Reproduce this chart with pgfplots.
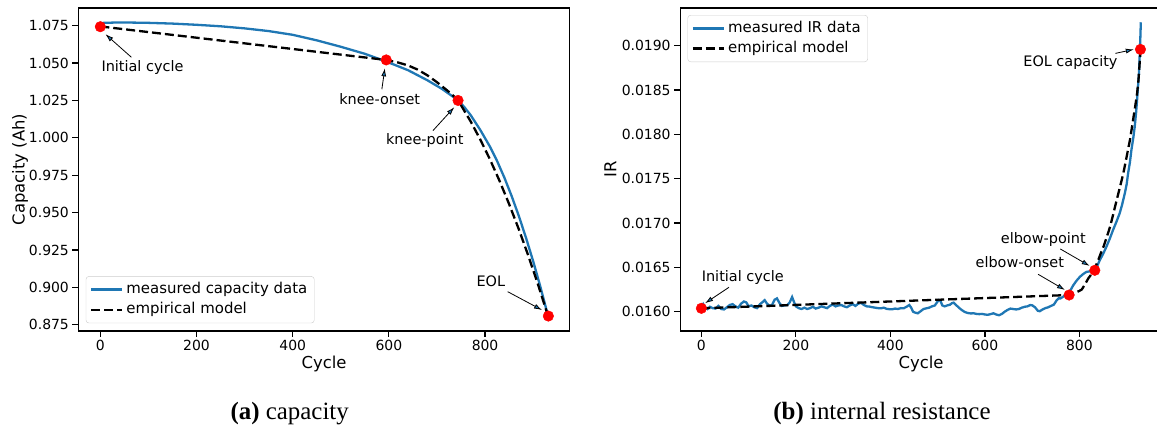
\documentclass[border=0pt]{standalone}
\usepackage{fontspec}
\setmainfont{DejaVu Sans}
\newfontfamily\capfont{Liberation Serif}
\usepackage{pgfplots}
\pgfplotsset{compat=1.18}
\usetikzlibrary{arrows.meta}

\definecolor{mplblue}{HTML}{1F77B4}
\definecolor{legedge}{HTML}{CCCCCC}
\newcommand{\tickfont}{\fontsize{14}{16}\selectfont}
\newcommand{\annfont}{\fontsize{14.5}{17}\selectfont}
\newcommand{\legfont}{\fontsize{15}{18}\selectfont}
\newcommand{\labfont}{\fontsize{16.5}{19}\selectfont}

\tikzset{
  ann/.style={font=\annfont},
  annarrow/.style={line width=0.8bp, -{Latex[length=8bp,width=5bp,fill=mplblue]}},
}
\pgfplotsset{
  mpl/.style={
    scale only axis, height=323bp,
    axis line style={line width=1.2bp},
    tick align=outside, major tick length=6bp,
    every tick/.style={black, line width=1.2bp},
    xtick pos=bottom, ytick pos=left,
    tick label style={font=\tickfont},
    /pgf/number format/assume math mode=true,
    label style={font=\labfont},
    xtick={0,200,400,600,800},
    scaled y ticks=false,
    xlabel={Cycle},
    xlabel style={at={(axis description cs:0.5,-0.1146)}, anchor=base},
    legend cell align=left,
    legend image code/.code={\draw[##1, line width=2.4bp] (0bp,0bp) -- (31bp,0bp);},
    legend style={draw=legedge, rounded corners=3bp,
      fill=white, fill opacity=0.8, text opacity=1, font=\legfont,
      inner xsep=4bp, inner ysep=3bp, row sep=0bp,
      nodes={inner xsep=3bp, inner ysep=3bp, text height=10.9bp, text depth=3.4bp},
      /tikz/every even column/.append style={column sep=2bp}},
  },
  meas/.style={mplblue, line width=2.3bp},
  model/.style={black, line width=2.3bp, dash pattern=on 9bp off 4bp},
  dots/.style={only marks, mark=*, mark size=5.3bp, red, forget plot},
}

\begin{document}
\begin{tikzpicture}
\useasboundingbox (0,0) rectangle (1157bp,435bp);

% (a) capacity
\begin{axis}[mpl, at={(78.4bp,104bp)}, anchor=south west, width=491.3bp,
  xmin=-45.6, xmax=976, ymin=0.87079, ymax=1.08683,
  ytick={0.875,0.9,0.925,0.95,0.975,1.0,1.025,1.05,1.075},
  yticklabel style={/pgf/number format/.cd, fixed, fixed zerofill, precision=3},
  ylabel={Capacity (Ah)},
  ylabel style={at={(axis description cs:-0.1189,0.5)}, anchor=center},
  legend style={at={(0.015,0.024)}, anchor=south west},
]
\addplot[meas] coordinates {
(0,1.0768) (30,1.0771) (60,1.0771) (100,1.0769) (150,1.0764) (200,1.0756)
(250,1.0746) (300,1.0732) (350,1.0714) (400,1.0689) (450,1.0652) (500,1.0609)
(550,1.0562) (594,1.0511) (640,1.0452) (680,1.0385) (710,1.0328) (744,1.0251)
(757,1.0205) (770,1.0152) (790,1.0053) (810,0.9942) (825,0.9845) (840,0.9735)
(855,0.9613) (870,0.9479) (885,0.9333) (900,0.9175) (915,0.9004) (930,0.8821)
};
\addplot[model] coordinates {
(0,1.0745) (594,1.0521) (620,1.0503) (640,1.0484) (660,1.0456) (680,1.0418)
(700,1.0372) (720,1.0320) (732,1.0288) (744,1.0250) (770,1.0110) (790,0.9989)
(810,0.9857) (830,0.9713) (850,0.9557) (870,0.9390) (890,0.9211) (910,0.9020)
(931,0.8808)
};
\addplot[dots] coordinates {(0,1.0743) (594.5,1.0521) (743.8,1.0250) (931.6,0.8808)};
\legend{measured capacity data, empirical model}
\node[ann, anchor=base] at (axis cs:87.6,1.0443) {Initial cycle};
\draw[annarrow] (axis cs:64.5,1.0539) -- (axis cs:10.6,1.0693);
\node[ann, anchor=base] at (axis cs:580.9,1.0220) {knee-onset};
\draw[annarrow] (axis cs:585.4,1.0325) -- (axis cs:591.6,1.0465);
\node[ann, anchor=base] at (axis cs:674.7,0.99526) {knee-point};
\draw[annarrow] (axis cs:691.6,1.0048) -- (axis cs:736.1,1.0205);
\node[ann, anchor=base] at (axis cs:812,0.90087) {EOL};
\draw[annarrow] (axis cs:847,0.8971) -- (axis cs:918.5,0.8848);
\end{axis}

% (b) internal resistance
\begin{axis}[mpl, at={(680.1bp,104bp)}, anchor=south west, width=482bp,
  xmin=-45, xmax=975, ymin=0.015782, ymax=0.019426,
  ytick={0.016,0.0165,0.017,0.0175,0.018,0.0185,0.019},
  yticklabel style={/pgf/number format/.cd, fixed, fixed zerofill, precision=4},
  ylabel={IR},
  ylabel style={at={(axis description cs:-0.1446,0.5)}, anchor=center},
  legend style={at={(0.01535,0.9783)}, anchor=north west},
]
\addplot[meas] coordinates {
(0,0.016040) (4,0.016085) (8,0.016050) (13,0.016030) (18,0.016055) (24,0.016040)
(30,0.016035) (36,0.016065) (42,0.016030) (48,0.016025) (54,0.016050) (60,0.016075)
(66,0.016085) (72,0.016060) (78,0.016045) (84,0.016090) (90,0.016115) (95,0.016105)
(100,0.016060) (106,0.016070) (112,0.016050) (118,0.016040) (124,0.016085) (130,0.016110)
(134,0.016130) (139,0.016090) (145,0.016065) (150,0.016080) (155,0.016135) (160,0.016150)
(165,0.016100) (170,0.016065) (176,0.016070) (182,0.016075) (187,0.016105) (192,0.016165)
(196,0.016110) (200,0.016060) (206,0.016040) (212,0.016030) (218,0.016045) (224,0.016030)
(230,0.016040) (236,0.016055) (242,0.016035) (248,0.016045) (254,0.016060) (260,0.016050)
(266,0.016040) (272,0.016065) (278,0.016080) (284,0.016060) (290,0.016070) (296,0.016075)
(302,0.016060) (308,0.016050) (314,0.016070) (320,0.016085) (326,0.016065) (332,0.016090)
(338,0.016100) (344,0.016075) (350,0.016060) (356,0.016057) (362,0.016050) (368,0.016045)
(374,0.016040) (380,0.016038) (386,0.016045) (392,0.016032) (398,0.016028) (404,0.016027)
(410,0.016035) (416,0.016030) (422,0.016040) (428,0.016038) (434,0.016055) (440,0.016075)
(444,0.016045) (448,0.016000) (452,0.015990) (458,0.015982) (464,0.016005) (470,0.016030)
(476,0.016038) (482,0.016045) (488,0.016060) (494,0.016070) (498,0.016100) (502,0.016130)
(506,0.016120) (510,0.016070) (515,0.016060) (520,0.016070) (526,0.016078) (530,0.016095)
(534,0.016102) (540,0.016070) (546,0.016040) (552,0.016015) (558,0.015995) (564,0.015985)
(570,0.015980) (576,0.015982) (582,0.015975) (588,0.015972) (594,0.015975) (600,0.015968)
(606,0.015965) (612,0.015972) (618,0.015982) (624,0.015968) (630,0.015960) (636,0.015975)
(642,0.016000) (648,0.016020) (654,0.016035) (660,0.016030) (666,0.016025) (672,0.016030)
(678,0.016045) (684,0.016055) (690,0.016060) (696,0.016075) (700,0.016072) (706,0.016050)
(712,0.016010) (716,0.016005) (722,0.016025) (728,0.016040) (734,0.016050) (740,0.016065)
(746,0.016080) (752,0.016130) (756,0.016150) (760,0.016150) (766,0.016170) (772,0.016200)
(778,0.016220) (782,0.016250) (787,0.016298) (794,0.016350) (801,0.016393) (808,0.016425)
(815,0.016449) (822,0.016455) (828,0.016462) (833,0.016475) (838,0.016520) (843,0.016580)
(850,0.016650) (857,0.016731) (864,0.016820) (871,0.016919) (878,0.017010) (885,0.017107)
(890,0.017200) (896,0.017333) (900,0.017440) (903,0.017559) (907,0.017690) (910,0.017822)
(914,0.017960) (917,0.018085) (920,0.018250) (922,0.018386) (924,0.018540) (926,0.018687)
(928,0.018951) (929,0.019100) (930,0.019265)
};
\addplot[model] coordinates {
(0,0.016038) (778,0.016188) (790,0.016210) (800,0.016235) (805,0.016250) (812,0.016310)
(819,0.016377) (825,0.016420) (830,0.016455) (835,0.016520) (840,0.016584) (845,0.016655)
(851,0.016734) (858,0.016845) (865,0.016959) (872,0.017110) (879,0.017261) (886,0.017410)
(893,0.017562) (900,0.017750) (907,0.017938) (912,0.018110) (918,0.018314) (922,0.018460)
(925,0.018615) (928,0.018841) (929.5,0.018962)
};
\addplot[dots] coordinates {(0,0.016038) (778.2,0.016188) (832.6,0.016467) (929.2,0.018959)};
\legend{measured IR data, empirical model}
\node[ann, anchor=base] at (axis cs:781,0.018763) {EOL capacity};
\draw[annarrow] (axis cs:876.2,0.018914) -- (axis cs:915.1,0.018959);
\node[ann, anchor=base] at (axis cs:87.6,0.016339) {Initial cycle};
\draw[annarrow] (axis cs:58.4,0.016275) -- (axis cs:7.8,0.016095);
\node[ann, anchor=base] at (axis cs:673.8,0.016501) {elbow-onset};
\draw[annarrow] (axis cs:712.6,0.016422) -- (axis cs:769.5,0.016245);
\node[ann, anchor=base] at (axis cs:723.6,0.016772) {elbow-point};
\draw[annarrow] (axis cs:759.4,0.016708) -- (axis cs:821.8,0.016516);
\end{axis}

\node[font=\capfont\fontsize{25}{30}\selectfont, anchor=base] at (289.7bp,16bp) {\textbf{(a)} capacity};
\node[font=\capfont\fontsize{25}{30}\selectfont, anchor=base] at (882bp,16bp) {\textbf{(b)} internal resistance};
\end{tikzpicture}
\end{document}
